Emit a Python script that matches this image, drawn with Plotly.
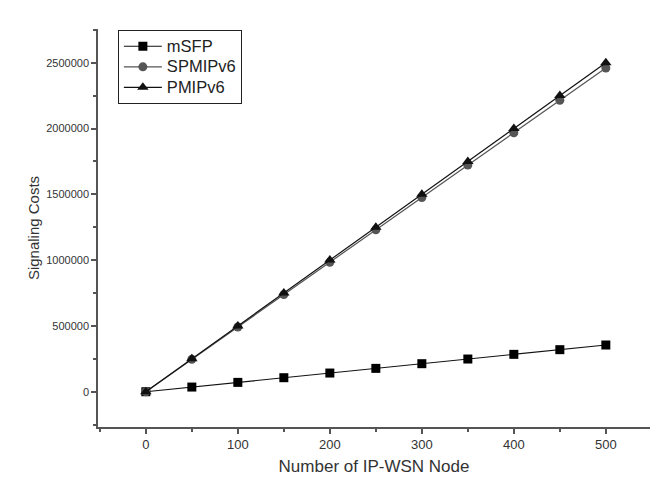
import plotly.graph_objects as go

nodes = [0, 50, 100, 150, 200, 250, 300, 350, 400, 450, 500]
msfp = [0, 35500, 71000, 106500, 142000, 177500, 213000, 248500, 284000, 319500, 355000]
spmipv6 = [0, 246000, 492000, 738000, 984000, 1230000, 1476000, 1722000, 1968000, 2214000, 2460000]
pmipv6 = [0, 250000, 500000, 750000, 1000000, 1250000, 1500000, 1750000, 2000000, 2250000, 2500000]

series_names = ["mSFP", "SPMIPv6", "PMIPv6"]
x_ticks = [0, 100, 200, 300, 400, 500]
y_ticks = [0, 500000, 1000000, 1500000, 2000000, 2500000]

FONT = "Liberation Sans, Arial"

def legend_label(s):
    return '<span style="font-size:16.5px">' + s + '</span>'

fig = go.Figure()
fig.add_trace(go.Scatter(x=nodes, y=msfp, name=legend_label(series_names[0]), mode="lines+markers",
                         line=dict(color="#111", width=1.2),
                         marker=dict(symbol="square", size=9, color="#000")))
fig.add_trace(go.Scatter(x=nodes, y=spmipv6, name=legend_label(series_names[1]), mode="lines+markers",
                         line=dict(color="#555", width=1.2),
                         marker=dict(symbol="circle", size=9, color="#555")))
fig.add_trace(go.Scatter(x=nodes, y=pmipv6, name=legend_label(series_names[2]), mode="lines+markers",
                         line=dict(color="#111", width=1.2),
                         marker=dict(symbol="triangle-up", size=10, color="#111")))

axis_common = dict(showgrid=False, zeroline=False, showline=True, linecolor="#555",
                   linewidth=1.5, ticks="outside", ticklen=5, tickwidth=1.5, tickcolor="#555")

fig.update_xaxes(range=[-52, 548], tickvals=x_ticks, ticktext=[str(v) for v in x_ticks],
                 tickfont=dict(family=FONT, size=13, color="#333"),
                 title=dict(text="Number of IP-WSN Node", font=dict(family=FONT, size=17, color="#333"), standoff=9),
                 minor=dict(dtick=50, tick0=0, ticks="outside", ticklen=3, tickwidth=1.5, tickcolor="#555"),
                 **axis_common)
fig.update_yaxes(range=[-268000, 2756000], tickvals=y_ticks, ticktext=[str(v) for v in y_ticks],
                 tickfont=dict(family=FONT, size=11, color="#333"),
                 title=dict(text="Signaling Costs", font=dict(family=FONT, size=15, color="#333"), standoff=3),
                 minor=dict(dtick=250000, tick0=0, ticks="outside", ticklen=3, tickwidth=1.5, tickcolor="#555"),
                 **axis_common)

fig.update_layout(
    width=650, height=484,
    margin=dict(l=98, r=0, t=29, b=57),
    plot_bgcolor="white", paper_bgcolor="white",
    showlegend=True,
    legend=dict(x=0.036, y=0.9975, xanchor="left", yanchor="top",
                bordercolor="#222", borderwidth=1, bgcolor="white",
                font=dict(family=FONT, size=13.5, color="#222"),
                tracegroupgap=0, itemwidth=38),
)

fig.write_html("out.html")
